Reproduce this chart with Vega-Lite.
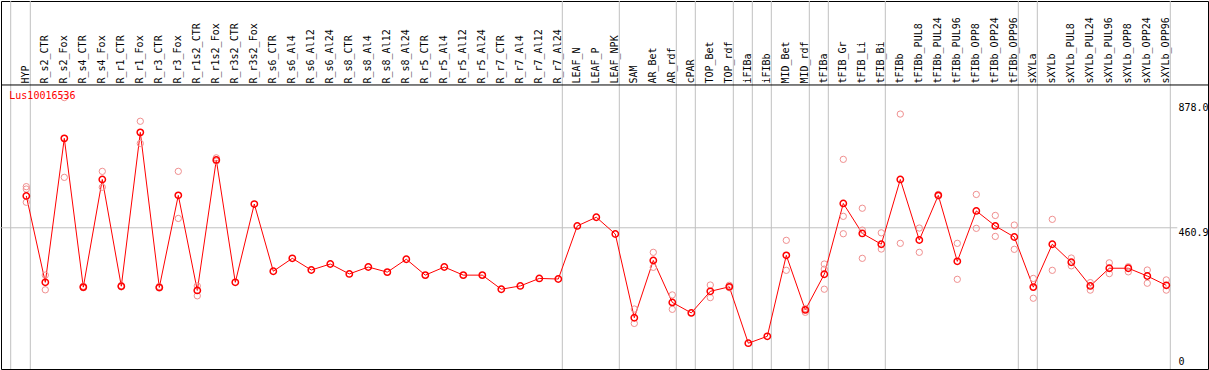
{
  "$schema": "https://vega.github.io/schema/vega-lite/v6.json",
  "width": 1207,
  "height": 368,
  "autosize": {"type": "none"},
  "padding": {"left": 1, "top": 1, "right": 1, "bottom": 1},
  "background": "white",
  "config": {"view": {"stroke": "black", "strokeWidth": 1}},
  "data": {"values": [
    {"s":"HYP","t":"mean","v":567,"end":true},{"s":"HYP","t":"rep","v":598},{"s":"HYP","t":"rep","v":590},{"s":"HYP","t":"rep","v":546},
    {"s":"R_s2_CTR","t":"mean","v":279},{"s":"R_s2_CTR","t":"rep","v":303},{"s":"R_s2_CTR","t":"rep","v":254},
    {"s":"R_s2_Fox","t":"mean","v":759},{"s":"R_s2_Fox","t":"rep","v":629},{"s":"R_s2_Fox","t":"rep","v":895},
    {"s":"R_s4_CTR","t":"mean","v":263},{"s":"R_s4_CTR","t":"rep","v":261},{"s":"R_s4_CTR","t":"rep","v":266},
    {"s":"R_s4_Fox","t":"mean","v":622},{"s":"R_s4_Fox","t":"rep","v":649},{"s":"R_s4_Fox","t":"rep","v":596},
    {"s":"R_r1_CTR","t":"mean","v":266},{"s":"R_r1_CTR","t":"rep","v":264},{"s":"R_r1_CTR","t":"rep","v":268},
    {"s":"R_r1_Fox","t":"mean","v":779},{"s":"R_r1_Fox","t":"rep","v":816},{"s":"R_r1_Fox","t":"rep","v":742},
    {"s":"R_r3_CTR","t":"mean","v":262},{"s":"R_r3_CTR","t":"rep","v":260},{"s":"R_r3_CTR","t":"rep","v":265},
    {"s":"R_r3_Fox","t":"mean","v":569},{"s":"R_r3_Fox","t":"rep","v":649},{"s":"R_r3_Fox","t":"rep","v":492},
    {"s":"R_r1s2_CTR","t":"mean","v":252},{"s":"R_r1s2_CTR","t":"rep","v":267},{"s":"R_r1s2_CTR","t":"rep","v":234},
    {"s":"R_r1s2_Fox","t":"mean","v":687},{"s":"R_r1s2_Fox","t":"rep","v":694},{"s":"R_r1s2_Fox","t":"rep","v":683},
    {"s":"R_r3s2_CTR","t":"mean","v":279},
    {"s":"R_r3s2_Fox","t":"mean","v":540},
    {"s":"R_s6_CTR","t":"mean","v":316},
    {"s":"R_s6_Al4","t":"mean","v":359},
    {"s":"R_s6_Al12","t":"mean","v":320},
    {"s":"R_s6_Al24","t":"mean","v":340},
    {"s":"R_s8_CTR","t":"mean","v":307},
    {"s":"R_s8_Al4","t":"mean","v":330},
    {"s":"R_s8_Al12","t":"mean","v":313},
    {"s":"R_s8_Al24","t":"mean","v":356},
    {"s":"R_r5_CTR","t":"mean","v":303},
    {"s":"R_r5_Al4","t":"mean","v":330},
    {"s":"R_r5_Al12","t":"mean","v":303},
    {"s":"R_r5_Al24","t":"mean","v":303},
    {"s":"R_r7_CTR","t":"mean","v":256},
    {"s":"R_r7_Al4","t":"mean","v":267},
    {"s":"R_r7_Al12","t":"mean","v":292},
    {"s":"R_r7_Al24","t":"mean","v":290,"end":true},
    {"s":"LEAF_N","t":"mean","v":467},
    {"s":"LEAF_P","t":"mean","v":496},
    {"s":"LEAF_NPK","t":"mean","v":440,"end":true},
    {"s":"SAM","t":"mean","v":161},{"s":"SAM","t":"rep","v":190},{"s":"SAM","t":"rep","v":142},
    {"s":"AR_Bet","t":"mean","v":352},{"s":"AR_Bet","t":"rep","v":379},{"s":"AR_Bet","t":"rep","v":329},
    {"s":"AR_rdf","t":"mean","v":212,"end":true},{"s":"AR_rdf","t":"rep","v":237},{"s":"AR_rdf","t":"rep","v":189},
    {"s":"cPAR","t":"mean","v":177,"end":true},
    {"s":"TOP_Bet","t":"mean","v":249},{"s":"TOP_Bet","t":"rep","v":270},{"s":"TOP_Bet","t":"rep","v":228},
    {"s":"TOP_rdf","t":"mean","v":264,"end":true},{"s":"TOP_rdf","t":"rep","v":269},{"s":"TOP_rdf","t":"rep","v":261},
    {"s":"iFIBa","t":"mean","v":76,"end":true},
    {"s":"iFIBb","t":"mean","v":99,"end":true},
    {"s":"MID_Bet","t":"mean","v":369},{"s":"MID_Bet","t":"rep","v":419},{"s":"MID_Bet","t":"rep","v":319},
    {"s":"MID_rdf","t":"mean","v":187,"end":true},{"s":"MID_rdf","t":"rep","v":179},{"s":"MID_rdf","t":"rep","v":192},
    {"s":"tFIBa","t":"mean","v":306,"end":true},{"s":"tFIBa","t":"rep","v":340},{"s":"tFIBa","t":"rep","v":323},{"s":"tFIBa","t":"rep","v":256},
    {"s":"tFIB_Gr","t":"mean","v":542},{"s":"tFIB_Gr","t":"rep","v":689},{"s":"tFIB_Gr","t":"rep","v":499},{"s":"tFIB_Gr","t":"rep","v":441},
    {"s":"tFIB_Li","t":"mean","v":442},{"s":"tFIB_Li","t":"rep","v":526},{"s":"tFIB_Li","t":"rep","v":359},{"s":"tFIB_Li","t":"rep","v":453},
    {"s":"tFIB_Bi","t":"mean","v":406,"end":true},{"s":"tFIB_Bi","t":"rep","v":444},{"s":"tFIB_Bi","t":"rep","v":390},
    {"s":"tFIBb","t":"mean","v":622},{"s":"tFIBb","t":"rep","v":840},{"s":"tFIBb","t":"rep","v":409},
    {"s":"tFIBb_PUL8","t":"mean","v":420},{"s":"tFIBb_PUL8","t":"rep","v":460},{"s":"tFIBb_PUL8","t":"rep","v":379},
    {"s":"tFIBb_PUL24","t":"mean","v":569},{"s":"tFIBb_PUL24","t":"rep","v":572},{"s":"tFIBb_PUL24","t":"rep","v":566},
    {"s":"tFIBb_PUL96","t":"mean","v":349},{"s":"tFIBb_PUL96","t":"rep","v":409},{"s":"tFIBb_PUL96","t":"rep","v":289},
    {"s":"tFIBb_OPP8","t":"mean","v":517},{"s":"tFIBb_OPP8","t":"rep","v":572},{"s":"tFIBb_OPP8","t":"rep","v":459},
    {"s":"tFIBb_OPP24","t":"mean","v":467},{"s":"tFIBb_OPP24","t":"rep","v":502},{"s":"tFIBb_OPP24","t":"rep","v":432},
    {"s":"tFIBb_OPP96","t":"mean","v":430,"end":true},{"s":"tFIBb_OPP96","t":"rep","v":470},{"s":"tFIBb_OPP96","t":"rep","v":389},
    {"s":"sXYLa","t":"mean","v":263,"end":true},{"s":"sXYLa","t":"rep","v":292},{"s":"sXYLa","t":"rep","v":226},
    {"s":"sXYLb","t":"mean","v":406},{"s":"sXYLb","t":"rep","v":489},{"s":"sXYLb","t":"rep","v":319},
    {"s":"sXYLb_PUL8","t":"mean","v":346},{"s":"sXYLb_PUL8","t":"rep","v":360},{"s":"sXYLb_PUL8","t":"rep","v":334},
    {"s":"sXYLb_PUL24","t":"mean","v":267},{"s":"sXYLb_PUL24","t":"rep","v":278},{"s":"sXYLb_PUL24","t":"rep","v":253},
    {"s":"sXYLb_PUL96","t":"mean","v":326},{"s":"sXYLb_PUL96","t":"rep","v":344},{"s":"sXYLb_PUL96","t":"rep","v":308},
    {"s":"sXYLb_OPP8","t":"mean","v":326},{"s":"sXYLb_OPP8","t":"rep","v":331},{"s":"sXYLb_OPP8","t":"rep","v":314},
    {"s":"sXYLb_OPP24","t":"mean","v":300},{"s":"sXYLb_OPP24","t":"rep","v":320},{"s":"sXYLb_OPP24","t":"rep","v":276},
    {"s":"sXYLb_OPP96","t":"mean","v":269,"end":true},{"s":"sXYLb_OPP96","t":"rep","v":287},{"s":"sXYLb_OPP96","t":"rep","v":253}
  ]},
  "layer": [
    {
      "transform": [{"filter": "datum.t == 'mean'"}],
      "mark": {"type": "rule", "xOffset": 4, "color": "#c0c0c0", "strokeWidth": 1},
      "encoding": {
        "x": {"field": "s", "type": "nominal", "sort": null,
              "scale": {"type": "point", "range": [25.3, 1165.3], "padding": 0, "round": false},
              "axis": {"orient": "top", "offset": -84, "title": null, "labelAngle": -90, "labelAlign": "left", "labelBaseline": "middle",
                       "labelPadding": 2, "labelOffset": -1, "ticks": false, "grid": false, "domain": false,
                       "labelOverlap": false, "labelBound": false, "labelFlush": false, "labelFont": "DejaVu Sans Mono", "labelFontSize": 10, "labelColor": "black"}},
        "strokeOpacity": {"condition": {"test": "datum.end", "value": 1}, "value": 0}
      }
    },
    {
      "data": {"values": [{}]},
      "mark": {"type": "rule", "xOffset": -15.6, "color": "#c0c0c0", "strokeWidth": 1},
      "encoding": {"x": {"datum": "HYP", "type": "nominal"}}
    },
    {
      "data": {"values": [{}]},
      "mark": {"type": "rule", "color": "#c0c0c0", "strokeWidth": 1, "xOffset": -26, "x2Offset": 11},
      "encoding": {
        "x": {"datum": "HYP", "type": "nominal"},
        "x2": {"datum": "sXYLb_OPP96"},
        "y": {"datum": 460.9, "type": "quantitative"}
      }
    },
    {
      "data": {"values": [{}]},
      "mark": {"type": "rule", "color": "black", "strokeWidth": 1},
      "encoding": {"y": {"datum": 937, "type": "quantitative"}}
    },
    {
      "transform": [{"filter": "datum.t == 'mean'"}],
      "mark": {"type": "line", "color": "#ff0000", "strokeWidth": 1},
      "encoding": {
        "x": {"field": "s", "type": "nominal", "sort": null},
        "y": {"field": "v", "type": "quantitative",
              "scale": {"domain": [-10, 1217], "nice": false, "zero": false},
              "axis": {"orient": "right", "offset": -30, "title": null, "values": [0, 460.9, 878],
                       "labelExpr": "datum.value == 0 ? '0' : format(datum.value, '.1f')",
                       "labelAlign": "left", "labelBaseline": {"condition": {"test": "datum.value == 0", "value": "bottom"}, "value": "top"},
                       "labelPadding": 0, "ticks": false, "domain": false, "grid": false, "labelFlush": false, "labelBound": false,
                       "labelFont": "DejaVu Sans Mono", "labelFontSize": 10, "labelColor": "black"}}
      }
    },
    {
      "transform": [{"filter": "datum.t == 'rep'"}],
      "mark": {"type": "point", "shape": "circle", "filled": false, "color": "#f09090", "strokeWidth": 1, "size": 40, "opacity": 1},
      "encoding": {
        "x": {"field": "s", "type": "nominal", "sort": null},
        "y": {"field": "v", "type": "quantitative"}
      }
    },
    {
      "transform": [{"filter": "datum.t == 'mean'"}],
      "mark": {"type": "point", "shape": "circle", "filled": false, "color": "#ff0000", "strokeWidth": 1.5, "size": 40, "opacity": 1},
      "encoding": {
        "x": {"field": "s", "type": "nominal", "sort": null},
        "y": {"field": "v", "type": "quantitative"}
      }
    },
    {
      "data": {"values": [{"gene": "Lus10016536"}]},
      "mark": {"type": "text", "align": "left", "baseline": "middle", "dx": -17, "color": "#ff0000", "font": "DejaVu Sans Mono", "fontSize": 10},
      "encoding": {
        "x": {"datum": "HYP", "type": "nominal"},
        "y": {"datum": 900, "type": "quantitative"},
        "text": {"field": "gene"}
      }
    }
  ]
}
